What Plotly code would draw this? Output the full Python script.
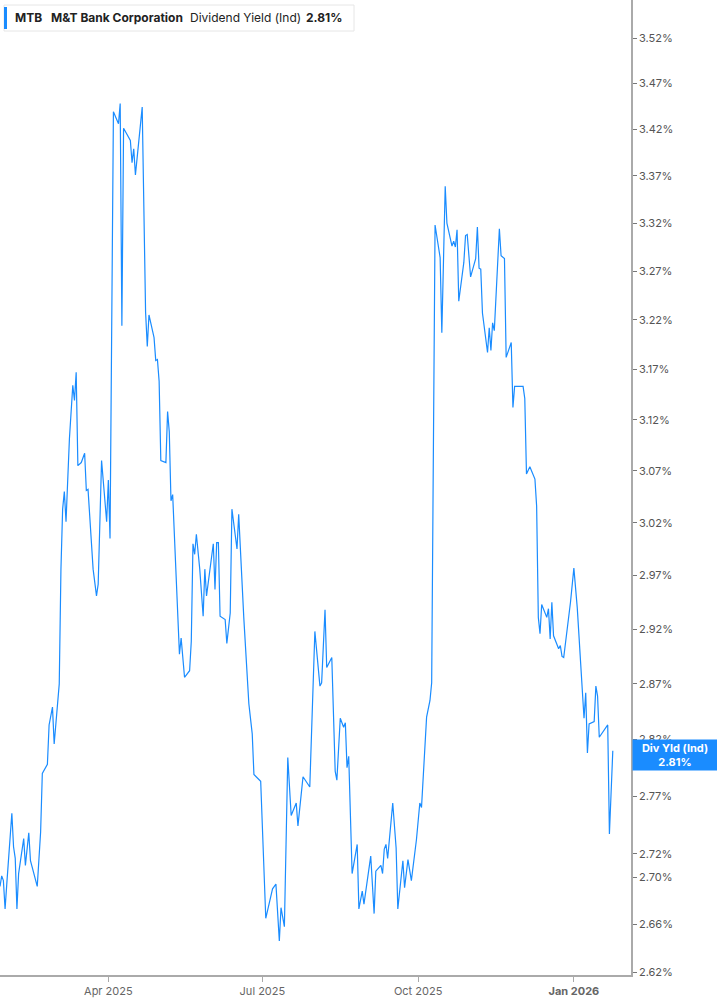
import math
import plotly.graph_objects as go

# ---- data ----
dates = [
    "2025-01-27", "2025-01-28", "2025-01-29", "2025-01-30", "2025-01-31", "2025-02-03", "2025-02-04", "2025-02-05",
    "2025-02-06", "2025-02-07", "2025-02-10", "2025-02-11", "2025-02-13", "2025-02-14", "2025-02-18", "2025-02-20",
    "2025-02-21", "2025-02-24", "2025-02-25", "2025-02-27", "2025-02-28", "2025-03-02", "2025-03-03", "2025-03-04",
    "2025-03-05", "2025-03-06", "2025-03-07", "2025-03-09", "2025-03-11", "2025-03-12", "2025-03-13", "2025-03-14",
    "2025-03-16", "2025-03-18", "2025-03-19", "2025-03-20", "2025-03-23", "2025-03-25", "2025-03-26", "2025-03-28",
    "2025-03-31", "2025-04-01", "2025-04-02", "2025-04-04", "2025-04-07", "2025-04-08", "2025-04-09", "2025-04-10",
    "2025-04-14", "2025-04-15", "2025-04-16", "2025-04-17", "2025-04-21", "2025-04-23", "2025-04-24", "2025-04-25",
    "2025-04-28", "2025-04-29", "2025-04-30", "2025-05-01", "2025-05-02", "2025-05-05", "2025-05-06", "2025-05-07",
    "2025-05-08", "2025-05-09", "2025-05-13", "2025-05-14", "2025-05-16", "2025-05-19", "2025-05-20", "2025-05-21",
    "2025-05-22", "2025-05-23", "2025-05-25", "2025-05-27", "2025-05-28", "2025-05-29", "2025-05-31", "2025-06-02",
    "2025-06-03", "2025-06-04", "2025-06-05", "2025-06-06", "2025-06-09", "2025-06-10", "2025-06-12", "2025-06-13",
    "2025-06-16", "2025-06-17", "2025-06-20", "2025-06-23", "2025-06-25", "2025-06-26", "2025-06-30", "2025-07-03",
    "2025-07-07", "2025-07-09", "2025-07-11", "2025-07-12", "2025-07-14", "2025-07-16", "2025-07-18", "2025-07-21",
    "2025-07-22", "2025-07-25", "2025-07-29", "2025-08-01", "2025-08-04", "2025-08-05", "2025-08-07", "2025-08-08",
    "2025-08-11", "2025-08-13", "2025-08-14", "2025-08-16", "2025-08-18", "2025-08-19", "2025-08-20", "2025-08-21",
    "2025-08-23", "2025-08-26", "2025-08-27", "2025-08-29", "2025-08-30", "2025-09-03", "2025-09-05", "2025-09-06",
    "2025-09-09", "2025-09-10", "2025-09-11", "2025-09-12", "2025-09-13", "2025-09-16", "2025-09-18", "2025-09-19",
    "2025-09-22", "2025-09-23", "2025-09-25", "2025-09-27", "2025-09-30", "2025-10-02", "2025-10-03", "2025-10-06",
    "2025-10-08", "2025-10-09", "2025-10-11", "2025-10-14", "2025-10-15", "2025-10-17", "2025-10-18", "2025-10-21",
    "2025-10-22", "2025-10-23", "2025-10-24", "2025-10-25", "2025-10-28", "2025-10-29", "2025-10-30", "2025-11-01",
    "2025-11-04", "2025-11-05", "2025-11-06", "2025-11-07", "2025-11-08", "2025-11-11", "2025-11-12", "2025-11-13",
    "2025-11-14", "2025-11-15", "2025-11-18", "2025-11-19", "2025-11-21", "2025-11-22", "2025-11-25", "2025-11-26",
    "2025-11-27", "2025-12-02", "2025-12-03", "2025-12-04", "2025-12-06", "2025-12-09", "2025-12-10", "2025-12-11",
    "2025-12-12", "2025-12-13", "2025-12-16", "2025-12-17", "2025-12-18", "2025-12-19", "2025-12-20", "2025-12-23",
    "2025-12-24", "2025-12-25", "2025-12-26", "2025-12-30", "2026-01-01", "2026-01-03", "2026-01-07", "2026-01-08",
    "2026-01-09", "2026-01-10", "2026-01-13", "2026-01-14", "2026-01-15", "2026-01-16", "2026-01-21", "2026-01-22",
    "2026-01-24",
]

div_yield = [
    2.692, 2.701, 2.697, 2.673, 2.694, 2.755, 2.726, 2.716,
    2.673, 2.703, 2.733, 2.710, 2.738, 2.714, 2.692, 2.739,
    2.790, 2.798, 2.833, 2.849, 2.816, 2.857, 2.870, 2.976,
    3.033, 3.050, 3.021, 3.101, 3.154, 3.139, 3.167, 3.075,
    3.078, 3.087, 3.051, 3.052, 2.976, 2.951, 2.962, 3.080,
    3.021, 3.061, 3.005, 3.439, 3.426, 3.448, 3.214, 3.421,
    3.408, 3.384, 3.399, 3.371, 3.444, 3.228, 3.193, 3.225,
    3.202, 3.179, 3.180, 3.158, 3.080, 3.078, 3.128, 3.108,
    3.041, 3.047, 2.897, 2.912, 2.876, 2.882, 2.909, 3.000,
    2.990, 3.009, 2.976, 2.932, 2.976, 2.951, 2.976, 3.000,
    2.957, 3.001, 3.001, 2.932, 2.929, 2.907, 2.935, 3.033,
    2.995, 3.028, 2.931, 2.852, 2.825, 2.789, 2.783, 2.665,
    2.690, 2.694, 2.646, 2.674, 2.658, 2.804, 2.753, 2.764,
    2.744, 2.787, 2.778, 2.918, 2.868, 2.871, 2.938, 2.885,
    2.894, 2.792, 2.784, 2.839, 2.831, 2.835, 2.795, 2.805,
    2.703, 2.728, 2.673, 2.688, 2.677, 2.718, 2.669, 2.705,
    2.710, 2.703, 2.724, 2.728, 2.716, 2.764, 2.725, 2.673,
    2.714, 2.691, 2.715, 2.697, 2.732, 2.764, 2.760, 2.840,
    2.855, 2.871, 3.318, 3.284, 3.207, 3.359, 3.320, 3.296,
    3.301, 3.295, 3.313, 3.239, 3.279, 3.307, 3.308, 3.264,
    3.283, 3.316, 3.273, 3.272, 3.227, 3.187, 3.212, 3.189,
    3.217, 3.209, 3.314, 3.286, 3.283, 3.182, 3.197, 3.132,
    3.153, 3.153, 3.141, 3.067, 3.074, 3.062, 3.036, 2.931,
    2.916, 2.943, 2.931, 2.939, 2.911, 2.945, 2.914, 2.902,
    2.905, 2.895, 2.894, 2.945, 2.977, 2.940, 2.839, 2.862,
    2.808, 2.834, 2.836, 2.868, 2.859, 2.822, 2.833, 2.737,
    2.810,
]

y_tick_vals = [2.62, 2.66, 2.70, 2.72, 2.77, 2.82, 2.87, 2.92, 2.97, 3.02,
               3.07, 3.12, 3.17, 3.22, 3.27, 3.32, 3.37, 3.42, 3.47, 3.52]
y_tick_text = [f"{v:.2f}%" for v in y_tick_vals]

x_tick_vals = ["2025-04-01", "2025-07-01", "2025-10-01", "2026-01-01"]
x_tick_text = ["Apr 2025", "Jul 2025", "Oct 2025", "<b>Jan 2026</b>"]

ticker = "MTB"
company = "M&T Bank Corporation"
metric = "Dividend Yield (Ind)"
current_value = 2.81

LINE_BLUE = "#1a8cff"
FONT = "Inter, Roboto, Arial, sans-serif"

fig = go.Figure()
fig.add_trace(go.Scatter(
    x=dates, y=div_yield, mode="lines",
    line=dict(color=LINE_BLUE, width=1.2),
    hoverinfo="skip", showlegend=False,
))

fig.update_layout(
    width=717, height=1005,
    margin=dict(l=0, r=86, t=0, b=30),
    paper_bgcolor="white", plot_bgcolor="white",
    font=dict(family=FONT, color="#555555", size=11),
    showlegend=False,
)

fig.update_xaxes(
    range=["2025-01-27", "2026-02-03 18:00"],
    tickvals=x_tick_vals, ticktext=x_tick_text,
    ticks="outside", ticklen=5, tickcolor="#aaaaaa",
    showline=True, linecolor="#aaaaaa", linewidth=2,
    showgrid=False, zeroline=False,
    tickfont=dict(family=FONT, size=11, color="#666666"),
)

fig.update_yaxes(
    type="log", side="right",
    range=[math.log10(2.6177), math.log10(3.5626)],
    tickvals=y_tick_vals, ticktext=y_tick_text,
    ticks="outside", ticklen=4, tickcolor="#777777",
    showline=True, linecolor="#aaaaaa", linewidth=1.5,
    showgrid=False, zeroline=False,
    tickfont=dict(family=FONT, size=11, color="#555555"),
)

# header box
PW, PH = 631.0, 975.0
def px_x(p):
    return p / PW
def px_y(p):
    return 1 - p / PH

fig.add_shape(type="rect", xref="paper", yref="paper",
              x0=px_x(4), x1=px_x(354), y0=px_y(31), y1=px_y(5),
              line=dict(color="#e6e6e6", width=1), fillcolor="white", layer="above")
fig.add_shape(type="rect", xref="paper", yref="paper",
              x0=px_x(4), x1=px_x(7), y0=px_y(29), y1=px_y(7),
              line=dict(width=0), fillcolor=LINE_BLUE, layer="above")

header_parts = [
    (13, f"<b>{ticker}</b>"),
    (49, f"<b>{company}</b>"),
    (188, metric),
    (304, f"<b>{current_value:.2f}%</b>"),
]
for xp, txt in header_parts:
    fig.add_annotation(xref="paper", yref="paper", x=px_x(xp), y=px_y(17),
                       xanchor="left", yanchor="middle", showarrow=False,
                       text=txt, font=dict(family=FONT, size=12, color="#222222"))

# current value label
fig.add_annotation(
    xref="paper", yref="y", x=1, y=math.log10(current_value),
    xanchor="left", yanchor="middle", xshift=1, yshift=-4, showarrow=False,
    text=f"<b>Div Yld (Ind)</b><br><b>{current_value:.2f}%</b>",
    font=dict(family=FONT, size=11, color="white"),
    bgcolor=LINE_BLUE, width=80, height=26, borderpad=2, align="center",
)

fig.write_html(
    "out.html",
    config={"displayModeBar": False},
    post_script="document.body.style.margin='0';document.body.style.overflow='hidden';",
)
